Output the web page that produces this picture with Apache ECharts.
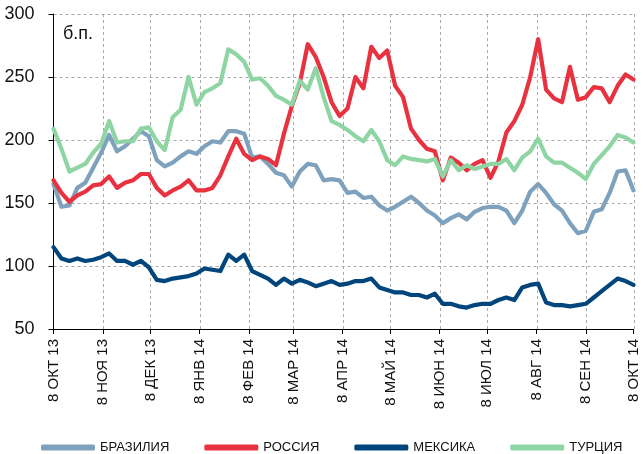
<!DOCTYPE html>
<html>
<head>
<meta charset="utf-8">
<script src="https://cdn.jsdelivr.net/npm/echarts@6/dist/echarts.min.js"></script>
<style>
  html, body { margin: 0; padding: 0; background: #fff; }
  #chart { width: 643px; height: 454px; }
</style>
</head>
<body>
<div id="chart"></div>
<script>
// spreads, b.p., one reading every 5 days starting 8 Oct 2013
var startDate = [2013, 9, 8];
var stepDays = 5;

var brazil = [165, 147, 148, 162, 166, 178, 190, 204, 191, 195, 201, 207, 203, 184, 179, 182, 187, 191, 189, 195,
  199, 198, 207, 207, 205, 186, 187, 181, 174, 172, 163, 175, 181, 180, 168, 169, 168, 158, 159, 154,
  155, 148, 144, 147, 151, 155, 150, 144, 140, 134, 138, 141, 137, 143, 146, 147, 147, 144, 134, 144,
  159, 165, 158, 149, 144, 134, 126, 128, 143, 145, 158, 175, 176, 160];
var russia = [168, 158, 151, 156, 159, 164, 165, 171, 162, 166, 168, 173, 173, 162, 156, 160, 163, 168, 160, 160,
  162, 172, 187, 201, 189, 184, 187, 185, 180, 205, 227, 245, 276, 266, 250, 230, 219, 225, 250, 241,
  274, 265, 271, 243, 234, 209, 200, 193, 191, 168, 186, 182, 176, 181, 184, 170, 183, 206, 215, 228,
  250, 280, 240, 233, 230, 258, 232, 234, 242, 241, 230, 243, 252, 248];
var mexico = [115, 106, 104, 106, 104, 105, 107, 110, 104, 104, 101, 104, 99, 89, 88, 90, 91, 92, 94, 98,
  97, 96, 109, 104, 109, 96, 93, 90, 85, 90, 86, 89, 87, 84, 86, 88, 85, 86, 88, 88,
  90, 83, 81, 79, 79, 77, 77, 75, 78, 70, 70, 68, 67, 69, 70, 70, 73, 75, 73, 83,
  85, 86, 71, 69, 69, 68, 69, 70, 75, 80, 85, 90, 88, 85];
var turkey = [209, 193, 175, 178, 181, 190, 197, 215, 198, 199, 199, 209, 210, 199, 192, 218, 224, 250, 228, 238,
  241, 245, 272, 268, 262, 248, 249, 243, 235, 232, 228, 247, 240, 257, 234, 215, 212, 208, 203, 199,
  208, 199, 184, 180, 187, 185, 184, 183, 185, 171, 184, 176, 180, 177, 179, 181, 181, 185, 176, 186,
  191, 201, 187, 182, 182, 178, 174, 169, 181, 188, 195, 204, 202, 198];

var seriesNames = ['БРАЗИЛИЯ', 'РОССИЯ', 'МЕКСИКА', 'ТУРЦИЯ'];
var seriesColors = ['#7ea1bd', '#e8323f', '#00457c', '#8fd5a4'];

// month ticks on the 8th
var tickDates = [[2013, 9, 8], [2013, 10, 8], [2013, 11, 8], [2014, 0, 8], [2014, 1, 8], [2014, 2, 8], [2014, 3, 8],
  [2014, 4, 8], [2014, 5, 8], [2014, 6, 8], [2014, 7, 8], [2014, 8, 8], [2014, 9, 8]];
var tickLabels = ['8 ОКТ 13', '8 НОЯ 13', '8 ДЕК 13', '8 ЯНВ 14', '8 ФЕВ 14', '8 МАР 14', '8 АПР 14',
  '8 МАЙ 14', '8 ИЮН 14', '8 ИЮЛ 14', '8 АВГ 14', '8 СЕН 14', '8 ОКТ 14'];

var yMin = 50, yMax = 300;
var FONT = "'Liberation Sans', Arial, sans-serif";
var GRID_LINE = { color: '#aaa', type: [3, 3], width: 1 };

// x is counted in days from the start date
var t0 = Date.UTC(startDate[0], startDate[1], startDate[2]);
function dayOf(d) { return Math.round((Date.UTC(d[0], d[1], d[2]) - t0) / 86400000); }
var tickDays = tickDates.map(dayOf);

function withDays(values) {
  return values.map(function (v, i) { return [i * stepDays, v]; });
}

var series = [brazil, russia, mexico, turkey].map(function (vals, k) {
  return {
    name: seriesNames[k],
    type: 'line',
    data: withDays(vals),
    symbol: 'none',
    clip: false,
    z: 3,
    lineStyle: { width: 4.2, color: seriesColors[k], cap: 'round', join: 'round' },
    itemStyle: { color: seriesColors[k] }
  };
});

var chart = echarts.init(document.getElementById('chart'));
chart.setOption({
  animation: false,
  backgroundColor: '#fff',
  title: {
    text: 'б.п.',
    left: 58, top: 20,
    textStyle: { fontFamily: FONT, fontSize: 18, fontWeight: 'normal', color: '#111' }
  },
  legend: {
    left: 36, top: 436,
    icon: 'roundRect',
    itemWidth: 54, itemHeight: 6,
    itemGap: 35,
    textStyle: { fontFamily: FONT, fontSize: 13, color: '#111' },
    data: seriesNames
  },
  grid: { left: 53.5, right: 9.5, top: 14, bottom: 125, containLabel: false },
  xAxis: {
    type: 'value',
    min: tickDays[0],
    max: tickDays[tickDays.length - 1],
    axisLine: { onZero: false, lineStyle: { color: '#000', width: 1 } },
    axisTick: { show: true, length: 5, lineStyle: { color: '#000' }, customValues: tickDays },
    axisLabel: {
      customValues: tickDays,
      rotate: 90,
      margin: 10,
      fontFamily: FONT, fontSize: 15, color: '#111',
      formatter: function (val) {
        var idx = tickDays.indexOf(val);
        return idx >= 0 ? tickLabels[idx] : '';
      }
    },
    splitLine: { show: false }
  },
  yAxis: {
    type: 'value',
    min: yMin, max: yMax, interval: 50,
    axisLine: { show: true, lineStyle: { color: '#000', width: 1 } },
    axisTick: { show: true, length: 5, lineStyle: { color: '#000' } },
    axisLabel: { margin: 19, fontFamily: FONT, fontSize: 18, color: '#111' },
    splitLine: { show: true, lineStyle: GRID_LINE }
  },
  series: series
});

// vertical month gridlines, placed through the chart's own x scale
var vLines = tickDays.slice(1).map(function (d) {
  var top = chart.convertToPixel({ gridIndex: 0 }, [d, yMax]);
  var bottom = chart.convertToPixel({ gridIndex: 0 }, [d, yMin]);
  var x = Math.round(top[0]) + 0.5;
  return {
    type: 'line',
    silent: true,
    z: 1,
    shape: { x1: x, y1: top[1], x2: x, y2: bottom[1] },
    style: { stroke: '#aaa', lineWidth: 1, lineDash: [3, 3] }
  };
});
chart.setOption({ graphic: { elements: vLines } });
</script>
</body>
</html>
